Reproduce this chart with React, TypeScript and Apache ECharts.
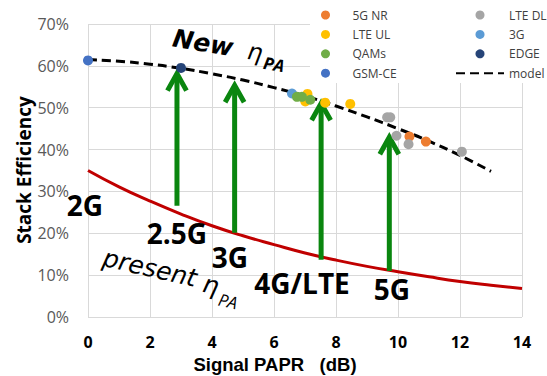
import { useEffect, useRef } from 'react';
import * as echarts from 'echarts';

// Model curve (new eta_PA)
const modelX = [0, 1, 2, 3, 4, 5, 6, 7, 8, 9, 10, 11, 12, 13];
const modelY = [61.5, 61.1, 60.4, 59.4, 58.1, 56.6, 54.8, 52.8, 50.4, 47.8, 45.0, 42.0, 38.6, 34.8];
// Present eta_PA curve
const presentX = [0, 1, 2, 3, 4, 5, 6, 7, 8, 9, 10, 11, 12, 13, 14];
const presentY = [35.0, 31.1, 27.7, 24.6, 21.8, 19.4, 17.3, 15.3, 13.6, 12.1, 10.8, 9.6, 8.5, 7.6, 6.8];

// Measured points [PAPR dB, efficiency %]
const nr5g = [[10.37, 43.1], [10.9, 41.9]];
const lteDl = [[9.65, 47.7], [9.75, 47.7], [9.95, 43.3], [10.34, 41.3], [12.06, 39.5]];
const lteUl = [[7.08, 53.3], [7.01, 51.5], [7.65, 51.2], [8.46, 50.9]];
const g3 = [[6.58, 53.4]];
const qams = [[6.74, 52.6], [6.9, 52.6], [7.17, 51.9]];
const edge = [[3.0, 59.5]];
const gsmCe = [[0, 61.3]];

// Improvement arrows
const arrowX = [2.87, 4.73, 7.52, 9.72];
const arrowFrom = [26.6, 20.1, 13.7, 11.0];
const arrowTo = [59.1, 56.3, 52.0, 43.9];

const genLabels = ['2G', '2.5G', '3G', '4G/LTE', '5G'];
const genPos = [[85, 205], [177, 233], [230, 257], [302, 283], [392, 289]];

const legendLeft = ['5G NR', 'LTE UL', 'QAMs', 'GSM-CE'];
const legendRight = ['LTE DL', '3G', 'EDGE', 'model'];

export default function App() {
  const ref = useRef<HTMLDivElement>(null);
  useEffect(() => {
    document.body.style.margin = '0';
    const chart = echarts.init(ref.current!, null, { renderer: 'svg' });
    const scatter = (name: string, data: number[][], color: string) => ({
      type: 'scatter',
      name,
      data,
      symbolSize: 10,
      itemStyle: { color, opacity: 1 },
      z: 4,
    });
    const arrowData = arrowX.map((x, i) => [x, arrowFrom[i], arrowTo[i]]);
    const green = '#0A860F';
    const legendCommon = {
      orient: 'vertical',
      top: 8,
      padding: 0,
      itemHeight: 9,
      itemGap: 5.4,
      textStyle: { fontFamily: 'Open Sans', fontSize: 12, color: '#404040', lineHeight: 14 },
    };
    const rot1 = (-9.5 * Math.PI) / 180;
    const rot2 = (-13 * Math.PI) / 180;
    chart.setOption({
      animation: false,
      grid: { left: 88, right: 25, top: 24, bottom: 59 },
      xAxis: {
        type: 'value',
        min: 0,
        max: 14,
        interval: 2,
        axisLine: { show: false },
        axisTick: { show: false },
        splitLine: { show: true, lineStyle: { color: '#D9D9D9', width: 1 } },
        axisLabel: { margin: 17, lineHeight: 16, fontFamily: 'Open Sans', fontWeight: 'bold', fontSize: 16, color: '#000' },
      },
      yAxis: {
        type: 'value',
        min: 0,
        max: 70,
        interval: 10,
        axisLine: { show: false },
        axisTick: { show: false },
        splitLine: { show: true, lineStyle: { color: '#D9D9D9', width: 1 } },
        axisLabel: { margin: 19, formatter: '{value}%', fontFamily: 'Open Sans', fontSize: 16, color: '#595959' },
      },
      legend: [
        { ...legendCommon, left: 321, itemWidth: 44, data: legendLeft },
        {
          ...legendCommon,
          left: 455,
          itemWidth: 48,
          data: legendRight.map((n) =>
            n === 'model' ? { name: n, itemStyle: { color: 'rgba(0,0,0,0)', borderWidth: 0 } } : n
          ),
        },
      ],
      graphic: [
        { type: 'rect', z: 1, shape: { x: 310, y: 0, width: 237, height: 83 }, style: { fill: '#fff' } },
        {
          type: 'text', x: 24, y: 170, rotation: Math.PI / 2, z: 10,
          style: { text: 'Stack Efficiency', font: 'bold 19px "Open Sans"', fill: '#000', align: 'center', verticalAlign: 'middle' },
        },
        {
          type: 'text', x: 275, y: 364, z: 10,
          style: { text: 'Signal PAPR   (dB)', font: 'bold 18.5px "Liberation Sans"', lineHeight: 19, fill: '#000', align: 'center', verticalAlign: 'middle' },
        },
        ...genLabels.map((t, i) => ({
          type: 'text', x: genPos[i][0], y: genPos[i][1], z: 10,
          style: { text: t, font: 'bold 28px "Open Sans"', fill: '#000', align: 'center', verticalAlign: 'middle' },
        })),
        {
          type: 'text', x: 203, y: 43, rotation: rot1, z: 10,
          style: { text: 'New', font: 'italic bold 25px "DejaVu Sans"', fill: '#000', align: 'center', verticalAlign: 'middle' },
        },
        {
          type: 'text', x: 255, y: 52, rotation: rot1, z: 10,
          style: { text: 'η', font: 'italic 24px "DejaVu Sans"', fill: '#000', align: 'center', verticalAlign: 'middle' },
        },
        {
          type: 'text', x: 274, y: 64, rotation: rot1, z: 10,
          style: { text: 'PA', font: 'italic bold 17px "Open Sans"', fill: '#000', align: 'center', verticalAlign: 'middle' },
        },
        {
          type: 'text', x: 150, y: 268, rotation: rot2, z: 10,
          style: { text: 'present', font: 'italic 25px "DejaVu Sans"', fill: '#000', align: 'center', verticalAlign: 'middle' },
        },
        {
          type: 'text', x: 211, y: 285, rotation: rot2, z: 10,
          style: { text: 'η', font: 'italic 25px "DejaVu Sans"', fill: '#000', align: 'center', verticalAlign: 'middle' },
        },
        {
          type: 'text', x: 228, y: 301, rotation: rot2, z: 10,
          style: { text: 'PA', font: 'italic 17px "Open Sans"', fill: '#000', align: 'center', verticalAlign: 'middle' },
        },
      ],
      series: [
        {
          type: 'line',
          name: 'present',
          data: presentX.map((x, i) => [x, presentY[i]]),
          smooth: true,
          symbol: 'none',
          lineStyle: { color: '#C00000', width: 3 },
          z: 2,
        },
        {
          type: 'line',
          name: 'model',
          data: modelX.map((x, i) => [x, modelY[i]]),
          smooth: true,
          symbol: 'none',
          itemStyle: { color: '#000' },
          lineStyle: { color: '#000', width: 3, type: [9, 5] },
          z: 2,
        },
        {
          type: 'custom',
          name: 'arrows',
          data: arrowData,
          encode: { x: 0, y: [1, 2] },
          clip: false,
          z: 3,
          renderItem: (_params: any, api: any) => {
            const x = api.value(0);
            const p0 = api.coord([x, api.value(1)]);
            const p1 = api.coord([x, api.value(2)]);
            const tipY = p1[1] + 4;
            const style = { stroke: green, lineWidth: 5, fill: 'none' };
            return {
              type: 'group',
              children: [
                { type: 'line', shape: { x1: p0[0], y1: p0[1], x2: p0[0], y2: tipY + 2 }, style },
                {
                  type: 'polyline',
                  shape: { points: [[p1[0] - 9.5, tipY + 17], [p1[0], tipY], [p1[0] + 9.5, tipY + 17]] },
                  style: { ...style, lineJoin: 'miter', lineCap: 'butt' },
                },
              ],
            };
          },
        },
        scatter('5G NR', nr5g, '#ED7D31'),
        scatter('LTE DL', lteDl, '#A5A5A5'),
        scatter('LTE UL', lteUl, '#FFC000'),
        scatter('3G', g3, '#5B9BD5'),
        scatter('QAMs', qams, '#70AD47'),
        scatter('EDGE', edge, '#264478'),
        scatter('GSM-CE', gsmCe, '#4472C4'),
      ],
    });
    return () => chart.dispose();
  }, []);
  return <div ref={ref} style={{ width: 547, height: 376 }} />;
}
